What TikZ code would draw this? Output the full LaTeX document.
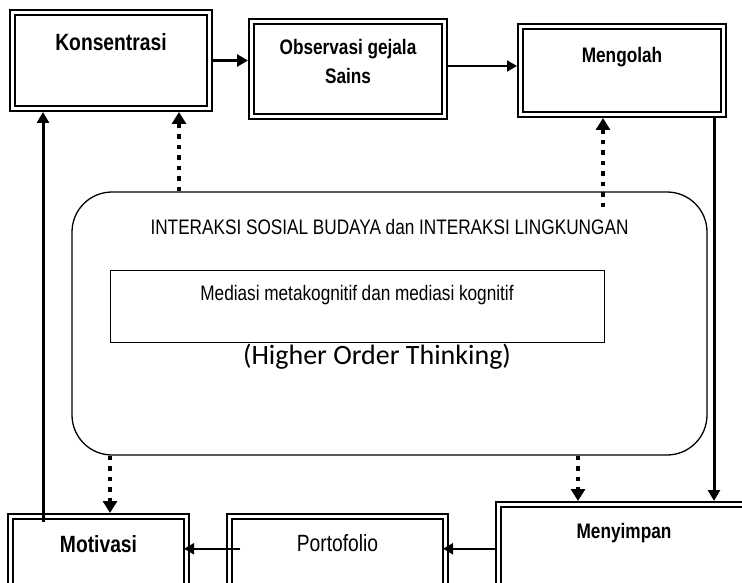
\documentclass[tikz,border=0pt]{standalone}
\usepackage{fontspec}
\setmainfont{Liberation Sans}
\newfontfamily\narrowsf[FakeStretch=0.82]{Liberation Sans}
\newfontfamily\hotfont{Carlito}
\newcommand\tightsp{\spaceskip=0.22em\relax}
\usetikzlibrary{arrows.meta, calc, positioning}

\tikzset{
  dbox/.style={draw, double, line width=2pt, double distance=3pt, outer sep=3.5pt, inner sep=0pt, align=center},
  bigbold/.style={font=\narrowsf\bfseries\fontsize{23.5}{28}\selectfont},
  smallbold/.style={font=\narrowsf\bfseries\fontsize{21}{29}\selectfont},
  plaintxt/.style={font=\narrowsf\fontsize{#1}{25}\selectfont},
  thickarr/.style={line width=3pt, -{Triangle[length=11pt,width=12pt]}},
  thinarr/.style={line width=2pt, -{Triangle[length=10pt,width=11pt]}},
  dotarr/.style={line width=4.5pt, dash pattern=on 4.5pt off 6pt, -{Triangle[length=12pt,width=14pt]}},
}

\begin{document}
\begin{tikzpicture}[x=1pt, y=-1pt]
\clip (0,0) rectangle (742,583);

% Top row
\node[dbox, bigbold, text width=197pt, text height=37.9pt, text depth=58.1pt] (kons) at (111,60.5) {Konsentrasi};
\node[dbox, smallbold, text width=193pt, text height=33pt, text depth=62pt] (obs) at (348,69) {\tightsp Observasi gejala\\Sains};
\node[dbox, smallbold, text width=203pt, text height=36pt, text depth=52pt] (meng) at (622,70.5) {Mengolah};

% Bottom row
\node[dbox, bigbold, text width=176pt, text height=35.9pt, text depth=42.6pt] (mot) at (98.5,555.75) {Motivasi};
\node[dbox, plaintxt=23.5, text width=216pt, text height=34.9pt, text depth=43.6pt] (port) at (337.5,555.75) {Portofolio};
\node[dbox, smallbold, text width=251pt, text height=34pt, text depth=56.5pt] (sim) at (624,549.75) {Menyimpan};

% Interaction box
\node[draw, rounded corners=40pt, line width=1.3pt, inner sep=0pt, align=center, plaintxt=21, text width=635pt, text height=42pt, text depth=221pt] (inter) at (389.5,323.5) {\tightsp INTERAKSI SOSIAL BUDAYA dan INTERAKSI LINGKUNGAN};
\node[draw, line width=1pt, inner sep=0pt, align=center, plaintxt=21, text width=494pt, text height=30pt, text depth=42pt] (medi) at (357,306) {\tightsp Mediasi metakognitif dan mediasi kognitif};
\node[inner sep=0pt, font=\hotfont\fontsize{28}{32}\selectfont] (hot) at (377,357) {(Higher Order Thinking)};

% Cycle arrows
\draw[thickarr] (kons.east) -- (kons.east -| obs.west);
\draw[thinarr] ($(obs.east)+(0,-3)$) -- ($(obs.east -| meng.west)+(0,-3)$);
\coordinate (rdown) at (714,0);
\draw[thickarr] (meng.south -| rdown) -- (sim.north -| rdown);
\draw[thinarr] (sim.west |- port.mid) -- ($(port.east |- port.mid)+(-6,0)$);
\draw[thinarr] ($(port.west |- port.mid)+(14,0)$) -- ($(mot.east |- port.mid)+(-6,0)$);
\draw[thickarr] ($(mot.north west)+(36,9)$) -- ($(kons.south west)+(34,0)$);

% Dotted links
\coordinate (dl) at (179,0);
\coordinate (dr) at (603,0);
\coordinate (dbl) at (110,0);
\coordinate (dbr) at (578,0);
\draw[dotarr] (inter.north -| dl) -- (kons.south -| dl);
\draw[dotarr] ($(inter.north -| dr)+(0,16)$) -- (meng.south -| dr);
\draw[dotarr] (inter.south -| dbl) -- (mot.north -| dbl);
\draw[dotarr] (inter.south -| dbr) -- (sim.north -| dbr);

\end{tikzpicture}
\end{document}
